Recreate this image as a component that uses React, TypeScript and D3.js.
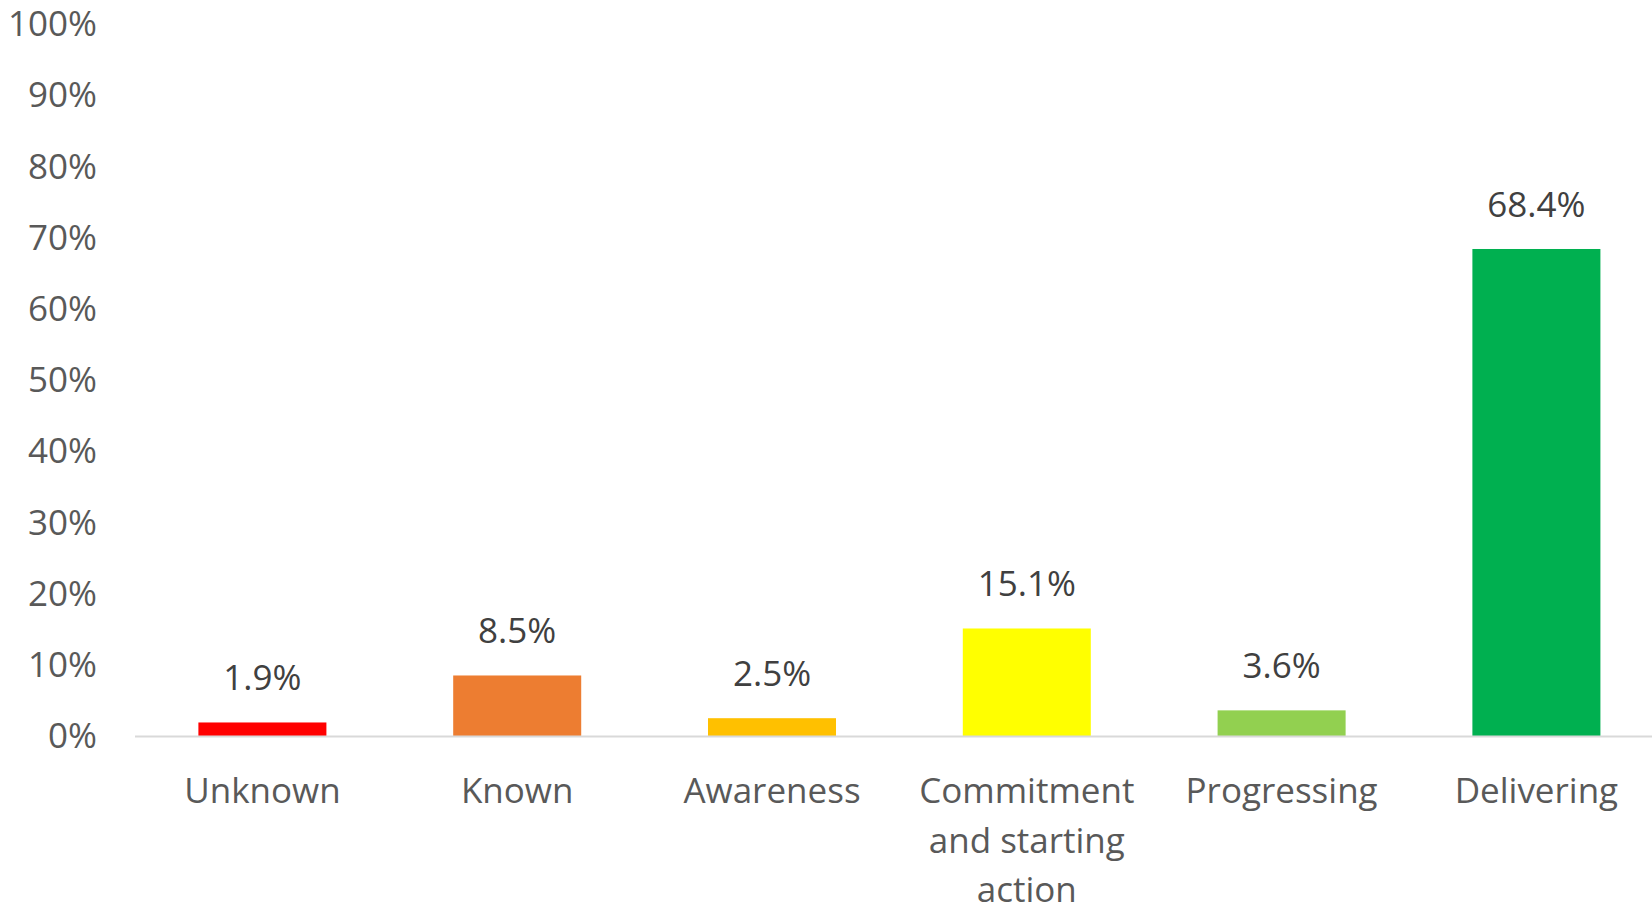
import * as d3 from "d3";
import { useEffect, useRef } from "react";

const categories = [
  "Unknown",
  "Known",
  "Awareness",
  "Commitment and starting action",
  "Progressing",
  "Delivering",
];
const values = [1.9, 8.5, 2.5, 15.1, 3.6, 68.4];
const colors = ["#FF0000", "#ED7D31", "#FFC000", "#FFFF00", "#92D050", "#00B050"];
const yTicks = [0, 10, 20, 30, 40, 50, 60, 70, 80, 90, 100];

const FONT = "'Open Sans', 'Noto Sans', sans-serif";

export default function App() {
  const ref = useRef<SVGSVGElement>(null);

  useEffect(() => {
    const width = 1652;
    const height = 908;
    const marginLeft = 135;
    const baseline = 736;
    const top = 24;

    const svg = d3.select(ref.current);
    svg.selectAll("*").remove();

    const x = d3
      .scaleBand()
      .domain(categories)
      .range([marginLeft, marginLeft + 6 * 254.8])
      .paddingInner(0.4976)
      .paddingOuter(0.2488);

    const y = d3.scaleLinear().domain([0, 100]).range([baseline, top]);

    // y tick labels
    svg
      .append("g")
      .selectAll("text")
      .data(yTicks)
      .join("text")
      .attr("x", 97)
      .attr("y", (d) => y(d))
      .attr("dy", "0.35em")
      .attr("text-anchor", "end")
      .attr("font-family", FONT)
      .attr("font-size", 35)
      .attr("fill", "#595959")
      .text((d) => `${d}%`);

    // bars
    svg
      .append("g")
      .selectAll("rect")
      .data(values)
      .join("rect")
      .attr("x", (_, i) => x(categories[i])!)
      .attr("width", x.bandwidth())
      .attr("y", (d) => y(d))
      .attr("height", (d) => baseline - y(d))
      .attr("fill", (_, i) => colors[i]);

    // axis line
    svg
      .append("line")
      .attr("x1", marginLeft)
      .attr("x2", width)
      .attr("y1", baseline + 0.5)
      .attr("y2", baseline + 0.5)
      .attr("stroke", "#D9D9D9")
      .attr("stroke-width", 2);

    // value labels
    svg
      .append("g")
      .selectAll("text")
      .data(values)
      .join("text")
      .attr("x", (_, i) => x(categories[i])! + x.bandwidth() / 2)
      .attr("y", (d) => y(d) - 32)
      .attr("text-anchor", "middle")
      .attr("font-family", FONT)
      .attr("font-size", 35)
      .attr("fill", "#404040")
      .text((d) => `${d.toFixed(1)}%`);

    // category labels with wrapping
    const canvas = document.createElement("canvas");
    const ctx = canvas.getContext("2d")!;
    ctx.font = `35px ${FONT}`;
    const maxW = x.step() - 10;
    const wrap = (s: string) => {
      const words = s.split(" ");
      const lines: string[] = [];
      let cur = "";
      for (const w of words) {
        const t = cur ? `${cur} ${w}` : w;
        if (cur && ctx.measureText(t).width > maxW) {
          lines.push(cur);
          cur = w;
        } else cur = t;
      }
      if (cur) lines.push(cur);
      return lines;
    };

    const cat = svg
      .append("g")
      .selectAll("text")
      .data(categories)
      .join("text")
      .attr("x", (d) => x(d)! + x.bandwidth() / 2)
      .attr("y", baseline + 67)
      .attr("text-anchor", "middle")
      .attr("font-family", FONT)
      .attr("font-size", 35)
      .attr("fill", "#595959");

    cat
      .selectAll("tspan")
      .data((d) => wrap(d))
      .join("tspan")
      .attr("x", function () {
        return (this.parentNode as SVGTextElement).getAttribute("x");
      })
      .attr("dy", (_, i) => (i === 0 ? 0 : 49.5))
      .text((d) => d);

    svg.attr("width", width).attr("height", height);
  }, []);

  return (
    <svg
      ref={ref}
      width={1652}
      height={908}
      style={{ position: "absolute", left: 0, top: 0, background: "#fff" }}
    />
  );
}
